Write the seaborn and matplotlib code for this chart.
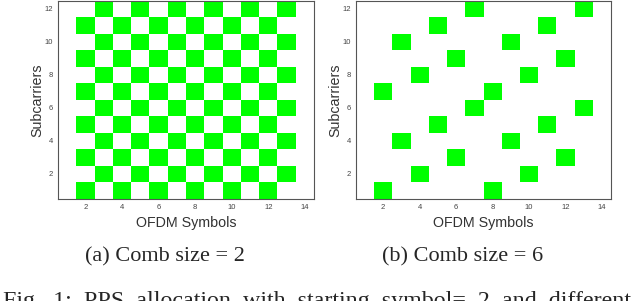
import numpy as np
import pandas as pd
import seaborn as sns
import matplotlib.pyplot as plt
from matplotlib.colors import ListedColormap

sns.set_style("white")
plt.rcParams['font.family'] = ['Liberation Sans', 'DejaVu Sans']

# OFDM symbols (columns) and subcarriers (rows)
symbols = list(range(1, 15))
subcarriers = list(range(1, 13))

# occupied symbols for each subcarrier (1..12)
comb2_alloc = [
    [2, 4, 6, 8, 10, 12], [3, 5, 7, 9, 11, 13],
    [2, 4, 6, 8, 10, 12], [3, 5, 7, 9, 11, 13],
    [2, 4, 6, 8, 10, 12], [3, 5, 7, 9, 11, 13],
    [2, 4, 6, 8, 10, 12], [3, 5, 7, 9, 11, 13],
    [2, 4, 6, 8, 10, 12], [3, 5, 7, 9, 11, 13],
    [2, 4, 6, 8, 10, 12], [3, 5, 7, 9, 11, 13],
]
comb6_alloc = [
    [2, 8], [4, 10], [6, 12], [3, 9], [5, 11], [7, 13],
    [2, 8], [4, 10], [6, 12], [3, 9], [5, 11], [7, 13],
]

x_ticks = [2, 4, 6, 8, 10, 12, 14]
y_ticks = [2, 4, 6, 8, 10, 12]
captions = ["(a) Comb size = 2", "(b) Comb size = 6"]
fig_caption = "Fig. 1: PPS allocation with starting symbol= 2 and different"


def to_grid(alloc):
    grid = pd.DataFrame(0, index=subcarriers, columns=symbols)
    for sc, syms in zip(subcarriers, alloc):
        grid.loc[sc, syms] = 1
    return grid


fig = plt.figure(figsize=(6.4, 3.01), dpi=100)
ax1 = fig.add_axes([0.0906, 0.339, 0.400, 0.658])
ax2 = fig.add_axes([0.556, 0.339, 0.399, 0.658])

cmap = ListedColormap(['white', '#00ff00'])
for ax, alloc in [(ax1, comb2_alloc), (ax2, comb6_alloc)]:
    sns.heatmap(to_grid(alloc), ax=ax, cmap=cmap, vmin=0, vmax=1, cbar=False)
    ax.set_ylim(0, len(subcarriers))
    ax.set_xlim(0, len(symbols))
    ax.set_xticks([s - 0.5 for s in x_ticks])
    ax.set_xticklabels([str(s) for s in x_ticks], rotation=0)
    ax.set_yticks([s - 0.5 for s in y_ticks])
    ax.set_yticklabels([str(s) for s in y_ticks], rotation=0)
    for sp in ax.spines.values():
        sp.set_visible(True)
        sp.set_color('#555555')
        sp.set_linewidth(0.8)
    ax.tick_params(direction='in', length=2.5, width=0.6, colors='#555555',
                   labelsize=5.5, labelcolor='#444444',
                   top=True, right=True, bottom=True, left=True, pad=3.5)
    ax.set_xlabel('OFDM Symbols', fontsize=10.3, color='#333333', labelpad=3.5)
    ax.set_ylabel('Subcarriers', fontsize=10.3, color='#333333', labelpad=0)

serif = ['Liberation Serif', 'DejaVu Serif']
fig.text(165 / 640, 1 - 257 / 301, captions[0], ha='center', va='center',
         fontsize=16, family=serif)
fig.text(463 / 640, 1 - 257 / 301, captions[1], ha='center', va='center',
         fontsize=16, family=serif)
fig.text(0.004, -0.02, fig_caption.replace(' ', '  '), ha='left',
         va='baseline', fontsize=17.3, family=serif)

fig.savefig('out.png', dpi=100)
